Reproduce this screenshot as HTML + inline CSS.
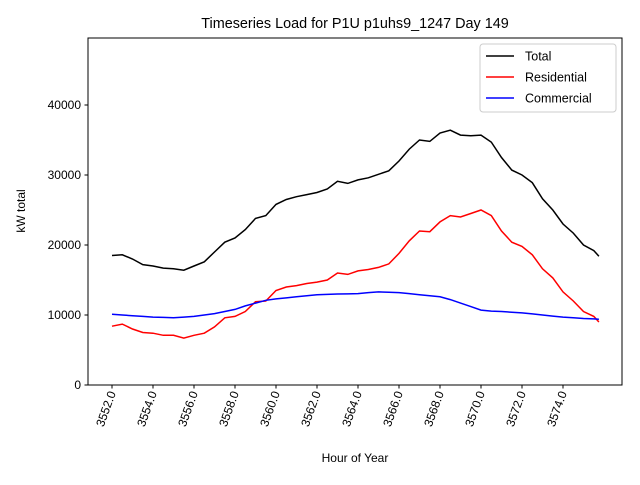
<!DOCTYPE html>
<html><head><meta charset="utf-8"><style>
body{margin:0;background:#fff}
svg{font-family:"Liberation Sans","DejaVu Sans",sans-serif}
</style></head><body>
<svg id="c" width="640" height="480"></svg>
<script>
const hours=[3552,3552.5,3553,3553.5,3554,3554.5,3555,3555.5,3556,3556.5,3557,3557.5,3558,3558.5,3559,3559.5,3560,3560.5,3561,3561.5,3562,3562.5,3563,3563.5,3564,3564.5,3565,3565.5,3566,3566.5,3567,3567.5,3568,3568.5,3569,3569.5,3570,3570.5,3571,3571.5,3572,3572.5,3573,3573.5,3574,3574.5,3575,3575.5,3575.75];
const totalLoad=[18500,18600,18000,17200,17000,16700,16600,16400,17000,17600,19000,20400,21000,22200,23800,24200,25800,26500,26900,27200,27500,28000,29100,28800,29300,29600,30100,30600,32000,33700,35000,34800,36000,36400,35700,35600,35700,34700,32500,30700,30000,28900,26600,25000,23000,21700,20000,19200,18400];
const residentialLoad=[8400,8700,8000,7500,7400,7100,7100,6700,7100,7400,8300,9600,9800,10500,11900,12000,13500,14000,14200,14500,14700,15000,16000,15800,16300,16500,16800,17300,18800,20600,22000,21900,23300,24200,24000,24500,25000,24200,22000,20400,19800,18600,16600,15300,13300,12000,10500,9800,9000];
const commercialLoad=[10100,10000,9900,9800,9700,9650,9600,9700,9800,10000,10200,10500,10800,11300,11700,12100,12300,12450,12600,12750,12900,12950,13000,13020,13050,13200,13300,13250,13200,13050,12900,12750,12600,12200,11700,11200,10700,10550,10500,10400,10300,10150,10000,9850,9700,9600,9500,9450,9400];
const yTicks=[0,10000,20000,30000,40000];
const xTicks=[3552,3554,3556,3558,3560,3562,3564,3566,3568,3570,3572,3574];
const L=88,R=622,T=38,B=385;
const xs=h=>112+(h-3552)*(451/22);
const ys=v=>B-v*0.007;
const svg=document.getElementById('c');const NS='http://www.w3.org/2000/svg';
function mk(t,a,txt){const e=document.createElementNS(NS,t);for(const k in a)e.setAttribute(k,a[k]);if(txt!==undefined)e.textContent=txt;svg.appendChild(e);return e;}
let e=mk('rect',{x:L,y:T,width:R-L,height:B-T,fill:'none',stroke:'#000','stroke-width':1});


yTicks.forEach(v=>{const y=ys(v);
let t=mk('line',{x1:L-3.5,x2:L,y1:y,y2:y,stroke:'#000'});


let l=mk('text',{x:L-7,y:y+4,'text-anchor':'end','font-size':12},String(v));

});
xTicks.forEach(h=>{const x=xs(h);
let t=mk('line',{x1:x,x2:x,y1:B,y2:B+3.5,stroke:'#000'});


let l=mk('text',{x:x+4,y:B+8,'text-anchor':'end','font-size':12,transform:`rotate(-70 ${x+4} ${B+8})`},h.toFixed(1));

});
function series(vals,col,name){const d=hours.map((h,i)=>(i?'L':'M')+xs(h).toFixed(1)+' '+ys(vals[i]).toFixed(1)).join('');
let p=mk('path',{d:d,fill:'none',stroke:col,'stroke-width':1.5});

}
series(totalLoad,'#000','total-line');
series(residentialLoad,'#f00','residential-line');
series(commercialLoad,'#00f','commercial-line');
e=mk('text',{x:355,y:28,'text-anchor':'middle','font-size':14.4},'Timeseries Load for P1U p1uhs9_1247  Day 149');


e=mk('text',{x:355,y:462,'text-anchor':'middle','font-size':12},'Hour of Year');


e=mk('text',{x:25,y:211,'text-anchor':'middle','font-size':12,transform:'rotate(-90 25 211)'},'kW total');


e=mk('rect',{x:480,y:44,width:136,height:68,fill:'#fff',stroke:'#ccc',rx:3});


[['Total','#000'],['Residential','#f00'],['Commercial','#00f']].forEach((s,i)=>{const y=56+i*21;
let ln=mk('line',{x1:486,x2:514,y1:y,y2:y,stroke:s[1],'stroke-width':1.5});


let tx=mk('text',{x:525,y:y+4.5,'font-size':12.5},s[0]);

});
</script>
</body></html>
